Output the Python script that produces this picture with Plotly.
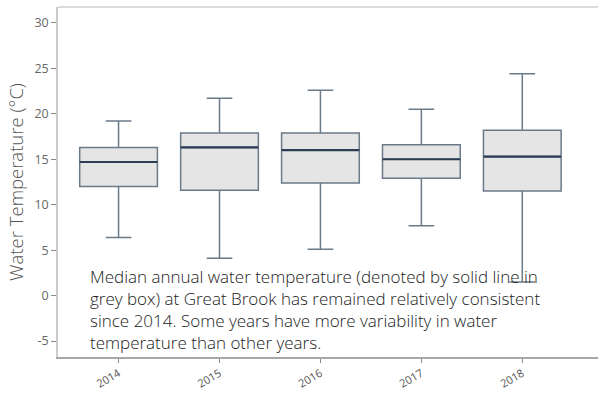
import plotly.graph_objects as go

years = ["2014", "2015", "2016", "2017", "2018"]
lower_whisker = [6.4, 4.1, 5.1, 7.7, 1.5]
q1 = [12.0, 11.6, 12.4, 12.9, 11.5]
median = [14.7, 16.3, 16.0, 15.0, 15.3]
q3 = [16.3, 17.9, 17.9, 16.6, 18.2]
upper_whisker = [19.2, 21.7, 22.6, 20.5, 24.4]

y_ticks = [-5, 0, 5, 10, 15, 20, 25, 30]
y_tick_labels = ["-5", "0", "5", "10", "15", "20", "25", "30"]
note = ("Median annual water temperature (denoted by solid line in<br>"
        "grey box) at Great Brook has remained relatively consistent<br>"
        "since 2014. Some years have more variability in water<br>"
        "temperature than other years.")

fig = go.Figure()
fig.add_trace(go.Box(
    x=years, q1=q1, median=median, q3=q3,
    lowerfence=lower_whisker, upperfence=upper_whisker,
    fillcolor="#e5e5e5", line=dict(color="#6b7a89", width=1.5),
    width=0.77, whiskerwidth=0.33, boxpoints=False, hoverinfo="skip",
    showlegend=False,
))
# dark median line overlay
fig.add_trace(go.Box(
    x=years, q1=median, median=median, q3=median,
    lowerfence=median, upperfence=median,
    fillcolor="rgba(0,0,0,0)", line=dict(color="#2c3e55", width=2.2),
    width=0.77, whiskerwidth=0, boxpoints=False, hoverinfo="skip",
    showlegend=False,
))

fig.add_annotation(
    text=note, xref="paper", yref="paper", x=0.055, y=0.268,
    xanchor="left", yanchor="top", align="left", showarrow=False,
    font=dict(family="Open Sans", size=17, weight=300, color="#222222"),
)
fig.add_shape(type="line", xref="paper", yref="paper", x0=0, x1=1, y0=1, y1=1,
              line=dict(color="#d0d0d0", width=1.5))

fig.update_layout(
    width=598, height=396,
    margin=dict(l=58, r=0, t=7, b=39),
    paper_bgcolor="white", plot_bgcolor="white",
    boxmode="overlay",
    font=dict(family="Open Sans", color="#555555"),
    xaxis=dict(
        type="category", range=[-0.6, 4.75], automargin=False,
        showline=True, linecolor="#a8a8a8", linewidth=2,
        ticks="outside", ticklen=4, tickcolor="#888888",
        tickangle=-30, tickfont=dict(size=11, color="#555555"),
        showgrid=False, zeroline=False,
    ),
    yaxis=dict(
        range=[-6.75, 31.75], tickvals=y_ticks, ticktext=y_tick_labels,
        automargin=False,
        showline=True, linecolor="#cccccc", linewidth=1.5,
        ticks="outside", ticklen=5, tickcolor="#888888",
        tickfont=dict(size=12.5, color="#666666"),
        showgrid=False, zeroline=False,
        title=dict(text="Water Temperature (°C)", font=dict(size=18.5, weight=300, color="#555555"), standoff=6),
    ),
)

fig.write_html("out.html", config={"displayModeBar": False},
               post_script="document.body.style.margin='0';document.body.style.overflow='hidden';")
